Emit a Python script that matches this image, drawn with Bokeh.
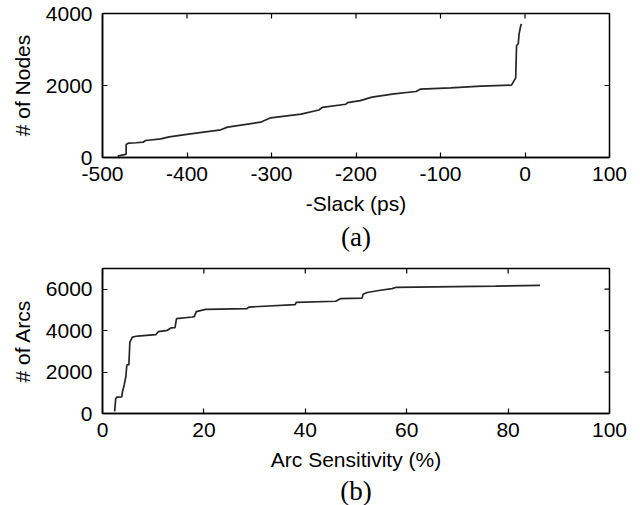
import math
from bokeh.plotting import figure
from bokeh.layouts import column
from bokeh.models import FixedTicker, Range1d, Title
from bokeh.embed import file_html
from bokeh.resources import INLINE

# ---- panel (a): cumulative node count vs -slack ----
slack_ps = [-482, -473, -472, -472, -469, -460, -452, -449, -431, -421, -396, -360,
            -352, -313, -301, -265, -244, -240, -212, -210, -195, -181, -155, -129,
            -124, -88, -52, -16, -11, -10, -8, -7, -5, -4]
nodes = [40, 85, 90, 360, 400, 410, 426, 472, 519, 575, 657, 769,
         843, 981, 1102, 1205, 1320, 1390, 1480, 1525, 1580, 1676, 1769, 1833,
         1898, 1935, 1981, 2009, 2213, 3111, 3157, 3435, 3667, 3713]
a_xticks = [-500, -400, -300, -200, -100, 0, 100]
a_yticks = [0, 2000, 4000]

# ---- panel (b): cumulative arc count vs arc sensitivity ----
sens_pct = [2.4, 2.6, 2.8, 3.8, 3.9, 4.3, 4.6, 4.8, 5.2, 5.4, 5.9, 6.9, 10.5, 11.0,
            12.8, 13.5, 14.3, 14.6, 17.7, 18.1, 18.5, 20.3, 28.5, 28.9, 38.0, 38.2,
            46.0, 47.0, 51.2, 51.4, 52.2, 54.8, 57.1, 57.8, 77.5, 86.3]
arcs = [100, 700, 790, 800, 1000, 1400, 1775, 2340, 2360, 3450, 3690, 3740, 3805, 3950,
        4017, 4130, 4150, 4580, 4660, 4680, 4920, 5030, 5065, 5140, 5260, 5360,
        5420, 5550, 5570, 5760, 5840, 5950, 6030, 6085, 6150, 6190]
b_xticks = [0, 20, 40, 60, 80, 100]
b_yticks = [0, 2000, 4000, 6000]

SANS = "Liberation Sans"
SERIF = "Liberation Serif"
FS = "21px"


def style_axis(ax, ticks):
    ax.ticker = FixedTicker(ticks=ticks)
    ax.major_label_overrides = {t: str(t) for t in ticks}
    ax.major_tick_in = 5
    ax.major_tick_out = 0
    ax.minor_tick_line_color = None
    ax.axis_line_color = "black"
    ax.axis_line_width = 1.5
    ax.major_tick_line_color = "black"
    ax.major_tick_line_width = 1.2
    ax.major_label_text_font = SANS
    ax.major_label_text_color = "black"
    ax.major_label_text_font_size = FS
    ax.axis_label_text_font = SANS
    ax.axis_label_text_font_style = "normal"
    ax.axis_label_text_color = "black"
    ax.axis_label_text_font_size = FS


def panel(xs, ys, xr, yr, xticks, yticks, xlabel, ylabel, tag,
          height, top, bottom, tag_standoff):
    p = figure(width=640, height=height, x_range=Range1d(*xr), y_range=Range1d(*yr),
               output_backend="svg", toolbar_location=None,
               min_border_left=102, min_border_right=31,
               min_border_top=top, min_border_bottom=bottom)
    p.grid.visible = False
    p.outline_line_color = "black"
    p.outline_line_width = 1.5
    p.background_fill_color = "white"
    p.border_fill_color = "white"
    style_axis(p.xaxis[0], xticks)
    style_axis(p.yaxis[0], yticks)
    p.xaxis[0].axis_label = xlabel
    p.yaxis[0].axis_label = ylabel
    p.xaxis[0].major_label_standoff = 9
    p.xaxis[0].axis_label_standoff = 8
    p.yaxis[0].major_label_standoff = 10
    p.yaxis[0].axis_label_standoff = 9
    # inward ticks on the top and right borders (half of each dash is clipped by the frame)
    p.scatter(xticks, [yr[1]] * len(xticks), marker="dash", size=10, angle=math.pi / 2,
              line_color="black", line_width=1.2)
    p.scatter([xr[1]] * len(yticks), yticks, marker="dash", size=10,
              line_color="black", line_width=1.2)
    p.line(xs, ys, line_color="#262626", line_width=1.7)
    t = Title(text=tag, align="center", text_font=SERIF, text_font_size="27px",
              text_font_style="normal", text_color="black", standoff=tag_standoff)
    p.add_layout(t, "below")
    return p


pa = panel(slack_ps, nodes, (-500, 100), (0, 4000), a_xticks, a_yticks,
           "-Slack (ps)", "# of Nodes", "(a)", 258, 13, 101, 4)
pb = panel(sens_pct, arcs, (0, 100), (0, 7000), b_xticks, b_yticks,
           "Arc Sensitivity (%)", "# of Arcs", "(b)", 247, 10, 92, 0)

layout = column(pa, pb, spacing=0)
open("out.html", "w").write(file_html(layout, INLINE))
